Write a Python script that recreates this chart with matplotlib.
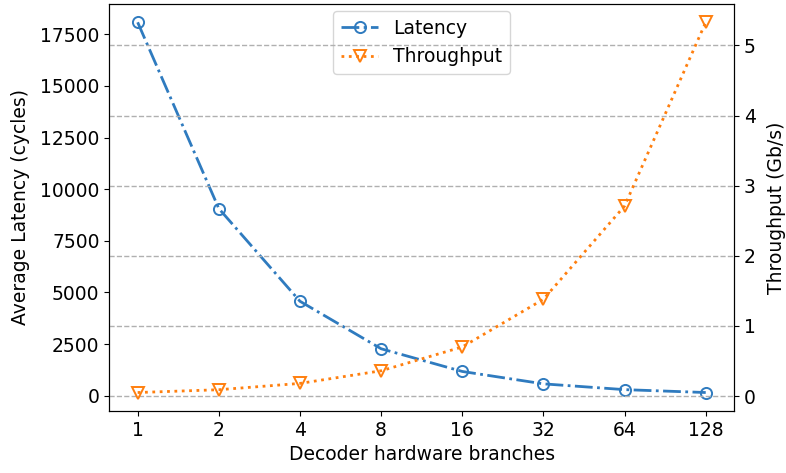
import numpy as np
import matplotlib.pyplot as plt

branches = ['1', '2', '4', '8', '16', '32', '64', '128']
latency = [18080, 9060, 4570, 2270, 1170, 570, 290, 150]      # cycles
throughput = [0.05, 0.09, 0.18, 0.36, 0.70, 1.38, 2.71, 5.33]  # Gb/s

x = np.arange(len(branches))
fs = 13.5

fig, ax1 = plt.subplots(figsize=(7.86, 4.73), dpi=100)
ax2 = ax1.twinx()

l1, = ax1.plot(x, latency, linestyle='-.', marker='o', fillstyle='none',
               color='#2f7bbf', linewidth=2, markersize=8, markeredgewidth=1.4,
               label='Latency')
l2, = ax2.plot(x, throughput, linestyle=':', marker='v', fillstyle='none',
               color='#ff7f0e', linewidth=2, markersize=8, markeredgewidth=1.4,
               label='Throughput')

ax2.grid(axis='y', linestyle='--', color='#b0b0b0', linewidth=1)
ax1.set_axisbelow(True)

ax1.set_xticks(x)
ax1.set_xticklabels(branches)
ax1.set_xlabel('Decoder hardware branches', fontsize=fs)
ax1.set_ylabel('Average Latency (cycles)', fontsize=fs, labelpad=7)
ax2.set_ylabel('Throughput (Gb/s)', fontsize=fs, labelpad=8)
ax1.tick_params(labelsize=fs)
ax2.tick_params(labelsize=fs)

ax1.legend(handles=[l1, l2], loc='upper center', fontsize=fs,
           borderaxespad=0.4)

fig.subplots_adjust(left=0.139, right=0.934, bottom=0.131, top=0.992)
fig.savefig('out.png')
